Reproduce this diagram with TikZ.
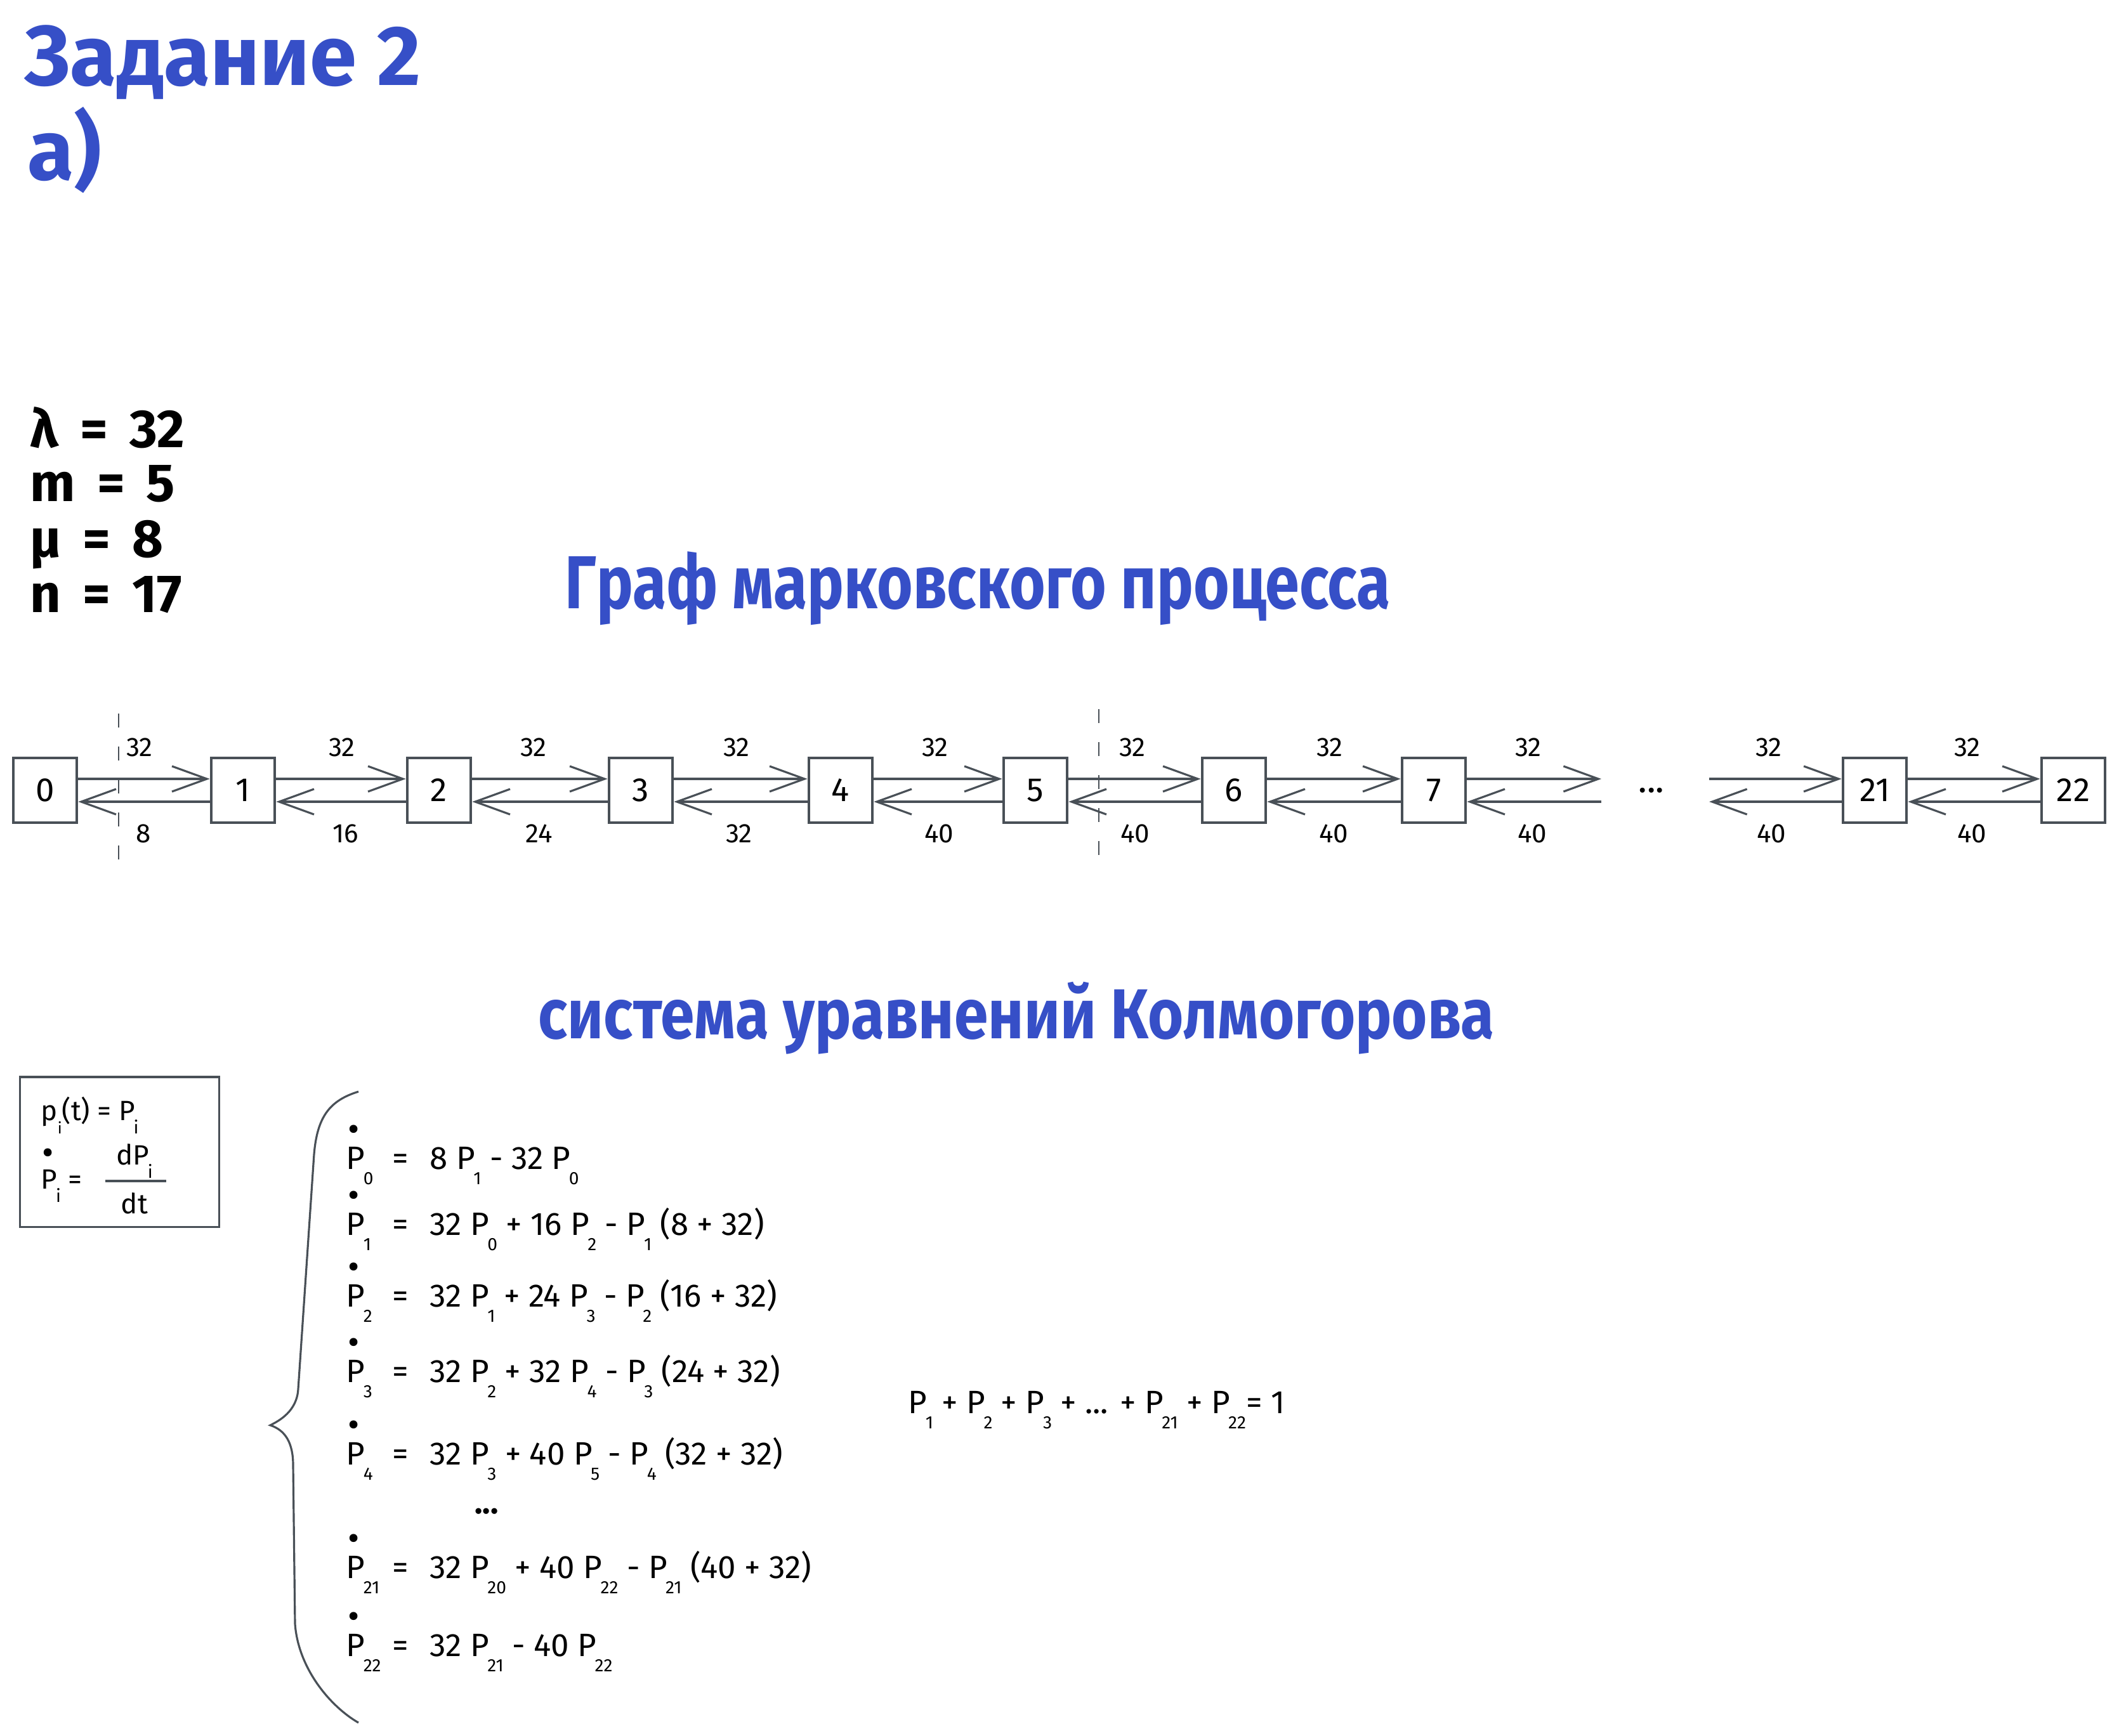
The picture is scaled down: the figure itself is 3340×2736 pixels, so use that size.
\documentclass[tikz,border=0pt]{standalone}
\usepackage{fontspec}
\setmainfont{Fira Sans}
\usetikzlibrary{arrows.meta}
\definecolor{ink}{HTML}{495057}
\definecolor{blu}{HTML}{364FC7}
\newcommand\Ps[1]{P\kern-0.05em\raisebox{-0.48em}{\fontsize{8}{8}\selectfont #1}}
\newcommand\Pdt[1]{\makebox[0pt][l]{\raisebox{0.85em}{\kern0.05em\fontsize{16}{16}\selectfont •}}\Ps{#1}}
\tikzset{
  st/.style={draw=ink, line width=1.3pt, minimum width=1cm, minimum height=1.02cm, inner sep=0pt, font=\fontsize{15}{15}\selectfont},
  fw/.style={draw=ink, line width=0.9pt, -{Straight Barb[length=0.55cm,width=0.4cm]}},
  ln/.style={draw=ink, line width=0.9pt},
  rate/.style={font=\fontsize{12}{12}\selectfont, inner sep=0pt},
  eq/.style={font=\fontsize{14.5}{14.5}\selectfont, inner sep=0pt, anchor=base west},
  defs/.style={font=\fontsize{12.5}{12.5}\selectfont, inner sep=0pt, anchor=base west},
  param/.style={font=\fontsize{24}{24}\selectfont\bfseries, inner sep=0pt, anchor=base west},
  cut/.style={draw=ink, line width=0.8pt, dash pattern=on 0.22cm off 0.3cm},
  ttl/.style={text=blu, inner sep=0pt, anchor=north west},
}
\begin{document}
\begin{tikzpicture}[x=0.01cm,y=-0.01cm]
\useasboundingbox (0,0) rectangle (3340,2736);

% heading
\node[text=blu, inner sep=0pt, anchor=base west, font=\fontsize{38}{38}\selectfont\bfseries] (head) at (38,134) {Задание 2};
\node[text=blu, inner sep=0pt, anchor=base west, font=\fontsize{38}{38}\selectfont\bfseries] (part) at (43,283) {а)};

% parameters
\node[param] (pl) at (47,705) {λ \,=\, 32};
\node[param] (pm) at (47,790) {m \,=\, 5};
\node[param] (pmu) at (47,878) {μ \,=\, 8};
\node[param] (pn) at (47,965) {n \,=\, 17};

% section titles
\node[ttl] (gtitle) at (890,869) {\resizebox*{13cm}{1.16cm}{\fontsize{30}{30}\selectfont\bfseries Граф марковского процесса}};
\node[ttl] (ktitle) at (848,1547) {\resizebox*{15.06cm}{1.14cm}{\fontsize{30}{30}\selectfont\bfseries система уравнений Колмогорова}};

% states
\node[st] (s0) at (71,1246) {0};
\node[st] (s1) at (383,1246) {1};
\node[st] (s2) at (692,1246) {2};
\node[st] (s3) at (1010,1246) {3};
\node[st] (s4) at (1325,1246) {4};
\node[st] (s5) at (1632,1246) {5};
\node[st] (s6) at (1945,1246) {6};
\node[st] (s7) at (2260,1246) {7};
\node[st] (s21) at (2955,1246) {21};
\node[st] (s22) at (3268,1246) {22};
\coordinate (gl) at (2524,1246);
\coordinate (gr) at (2694,1246);
\node[font=\fontsize{16}{16}\selectfont, inner sep=0pt] (gdots) at (2603,1246) {...};

\foreach \a/\b in {s0/s1,s1/s2,s2/s3,s3/s4,s4/s5,s5/s6,s6/s7,s21/s22}{
  \draw[fw] ([yshift=0.18cm]\a.east) -- ([yshift=0.18cm]\b.west);
  \draw[fw] ([yshift=-0.18cm]\b.west) -- ([yshift=-0.18cm]\a.east);
}
\draw[fw] ([yshift=0.18cm]s7.east) -- ([yshift=0.18cm]gl);
\draw[fw] ([yshift=-0.18cm]gl) -- ([yshift=-0.18cm]s7.east);
\draw[fw] ([yshift=0.18cm]gr) -- ([yshift=0.18cm]s21.west);
\draw[fw] ([yshift=-0.18cm]s21.west) -- ([yshift=-0.18cm]gr);

% cuts
\coordinate (c1t) at (187,1125); \coordinate (c1b) at (187,1374);
\coordinate (c2t) at (1732,1118); \coordinate (c2b) at (1732,1368);
\draw[cut] (c1t) -- (c1b);
\draw[cut] (c2t) -- (c2b);

% rates
\node[rate] (u1) at (220,1178) {32};
\node[rate] (u2) at (539,1178) {32};
\node[rate] (u3) at (841,1178) {32};
\node[rate] (u4) at (1161,1178) {32};
\node[rate] (u5) at (1474,1178) {32};
\node[rate] (u6) at (1785,1178) {32};
\node[rate] (u7) at (2096,1178) {32};
\node[rate] (u8) at (2409,1178) {32};
\node[rate] (u9) at (2788,1178) {32};
\node[rate] (u10) at (3101,1178) {32};
\node[rate] (d1) at (226,1314) {8};
\node[rate] (d2) at (545,1314) {16};
\node[rate] (d3) at (850,1314) {24};
\node[rate] (d4) at (1165,1314) {32};
\node[rate] (d5) at (1480,1314) {40};
\node[rate] (d6) at (1789,1314) {40};
\node[rate] (d7) at (2102,1314) {40};
\node[rate] (d8) at (2415,1314) {40};
\node[rate] (d9) at (2792,1314) {40};
\node[rate] (d10) at (3108,1314) {40};

% definitions box
\node[draw=ink, line width=0.9pt, minimum width=3.13cm, minimum height=2.36cm, inner sep=0pt] (defbox) at (188.5,1816) {};
\node[defs] (df1) at (64,1766) {p\raisebox{-0.48em}{\fontsize{7}{7}\selectfont i}(t) = \Ps{i}};
\node[defs] (df2) at (64,1874) {\Pdt{i} =};
\node[defs, anchor=base] (fnum) at (212,1836) {d\Ps{i}};
\node[defs, anchor=base] (fden) at (212,1913) {dt};
\coordinate (fb1) at (166,1862); \coordinate (fb2) at (262,1862);
\draw[ln] (fb1) -- (fb2);

% brace
\coordinate (bt) at (565,1721);
\coordinate (bm) at (426,2247);
\coordinate (bb) at (565,2716);
\draw[ln] (bt) .. controls (520,1735) and (500,1760) .. (495,1820) -- (470,2190)
  .. controls (468,2225) and (440,2240) .. (bm)
  .. controls (450,2255) and (462,2275) .. (462,2310) -- (465,2560)
  .. controls (470,2630) and (520,2690) .. (bb);

% equations
\node[eq] (e0l) at (545,1843) {\Pdt{0}};
\node[eq] (e0m) at (618,1843) {=};
\node[eq] (e0r) at (677,1843) {8 \Ps{1} - 32 \Ps{0}};
\node[eq] (e1l) at (545,1947) {\Pdt{1}};
\node[eq] (e1m) at (618,1947) {=};
\node[eq] (e1r) at (677,1947) {32 \Ps{0} + 16 \Ps{2} - \Ps{1} (8 + 32)};
\node[eq] (e2l) at (545,2060) {\Pdt{2}};
\node[eq] (e2m) at (618,2060) {=};
\node[eq] (e2r) at (677,2060) {32 \Ps{1} + 24 \Ps{3} - \Ps{2} (16 + 32)};
\node[eq] (e3l) at (545,2179) {\Pdt{3}};
\node[eq] (e3m) at (618,2179) {=};
\node[eq] (e3r) at (677,2179) {32 \Ps{2} + 32 \Ps{4} - \Ps{3} (24 + 32)};
\node[eq] (e4l) at (545,2309) {\Pdt{4}};
\node[eq] (e4m) at (618,2309) {=};
\node[eq] (e4r) at (677,2309) {32 \Ps{3} + 40 \Ps{5} - \Ps{4} (32 + 32)};
\node[eq, anchor=base] (edots) at (767,2386) {\textbf{...}};
\node[eq] (e21l) at (545,2488) {\Pdt{21}};
\node[eq] (e21m) at (618,2488) {=};
\node[eq] (e21r) at (677,2488) {32 \Ps{20} + 40 \Ps{22} - \Ps{21} (40 + 32)};
\node[eq] (e22l) at (545,2611) {\Pdt{22}};
\node[eq] (e22m) at (618,2611) {=};
\node[eq] (e22r) at (677,2611) {32 \Ps{21} - 40 \Ps{22}};

\node[eq] (norm) at (1431,2228) {\Ps{1} + \Ps{2} + \Ps{3} + ... + \Ps{21} + \Ps{22}= 1};
\end{tikzpicture}
\end{document}
